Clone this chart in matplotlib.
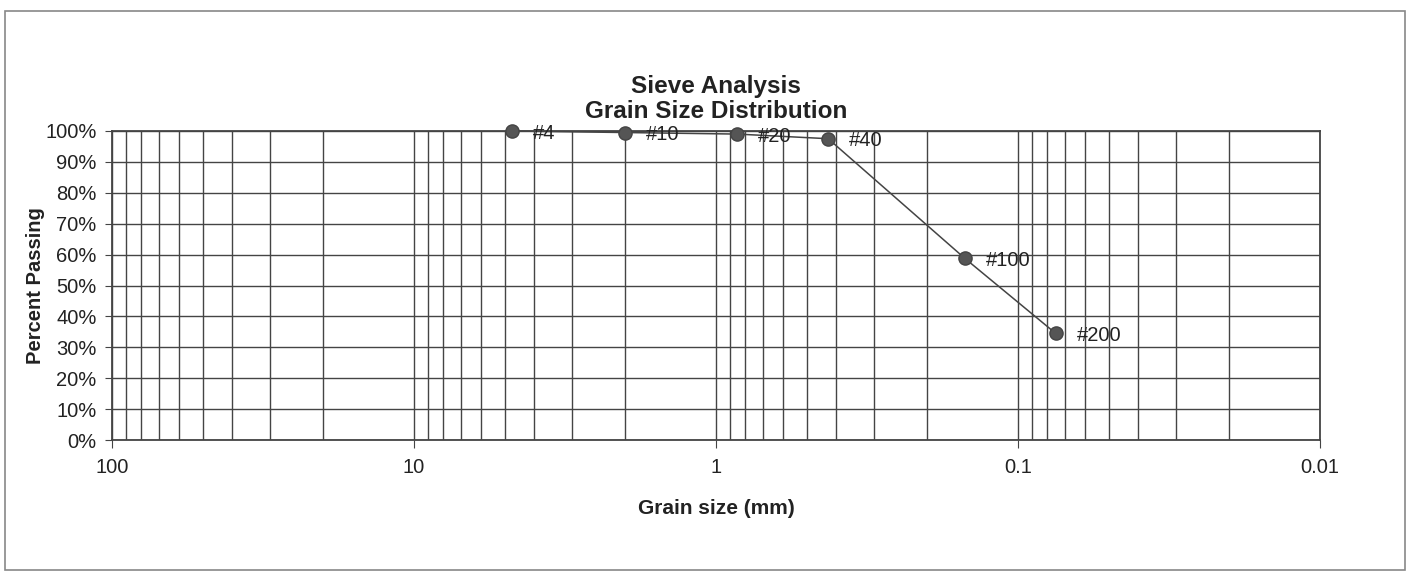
import matplotlib.pyplot as plt
from matplotlib.patches import Rectangle
from matplotlib.ticker import FuncFormatter, LogLocator, MultipleLocator

plt.rcParams["font.family"] = ["Liberation Sans", "DejaVu Sans"]

# sieve data
sieves = ["#4", "#10", "#20", "#40", "#100", "#200"]
grain_mm = [4.75, 2.0, 0.85, 0.425, 0.15, 0.075]
passing = [100.0, 99.5, 99.0, 97.5, 58.8, 34.5]

GRID = "#444444"

fig = plt.figure(figsize=(14.09, 5.74), dpi=100)
ax = fig.add_axes([0.0795, 0.2334, 0.8573, 0.5384])

ax.plot(grain_mm, passing, color="#444444", lw=1.1, marker="o", ms=9.5,
        mfc="#555555", mec="#444444", zorder=3, clip_on=False)
for s, x, y in zip(sieves, grain_mm, passing):
    ax.annotate(s, (x, y), xytext=(15, -1.5), textcoords="offset points",
                fontsize=14.5, va="center", ha="left", color="#222222")

ax.set_xscale("log")
ax.set_xlim(100, 0.01)
ax.set_ylim(0, 100)
ax.xaxis.set_major_locator(LogLocator(base=10))
ax.xaxis.set_minor_locator(LogLocator(base=10, subs=range(2, 10)))
ax.xaxis.set_major_formatter(FuncFormatter(lambda v, p: f"{v:g}"))
ax.xaxis.set_minor_formatter(FuncFormatter(lambda v, p: ""))
ax.yaxis.set_major_locator(MultipleLocator(10))
ax.yaxis.set_major_formatter(FuncFormatter(lambda v, p: f"{v:.0f}%"))

ax.grid(True, which="major", color=GRID, lw=1.0)
ax.grid(True, which="minor", axis="x", color=GRID, lw=1.0)
ax.tick_params(axis="x", which="major", length=6, color=GRID, labelsize=14.5,
               pad=7, labelcolor="#222222")
ax.tick_params(axis="x", which="minor", length=0)
ax.tick_params(axis="y", length=5, color=GRID, labelsize=14.5, pad=6,
               labelcolor="#222222")
for sp in ax.spines.values():
    sp.set_color(GRID)
    sp.set_linewidth(1.3)

ax.set_xlabel("Grain size (mm)", fontsize=15, fontweight="bold", labelpad=16,
              color="#222222")
ax.set_ylabel("Percent Passing", fontsize=14.5, fontweight="bold", labelpad=0,
              color="#222222")
fig.text(0.508, 1 - 87 / 574, "Sieve Analysis", ha="center", va="center",
         fontsize=17.5, fontweight="bold", color="#222222")
fig.text(0.508, 1 - 112 / 574, "Grain Size Distribution", ha="center",
         va="center", fontsize=17.5, fontweight="bold", color="#222222")

fig.patches.append(Rectangle((5 / 1409, 4 / 574), 1400 / 1409, 559 / 574,
                             transform=fig.transFigure, fill=False,
                             edgecolor="#888888", lw=1.2))

fig.savefig("out.png", dpi=100)
